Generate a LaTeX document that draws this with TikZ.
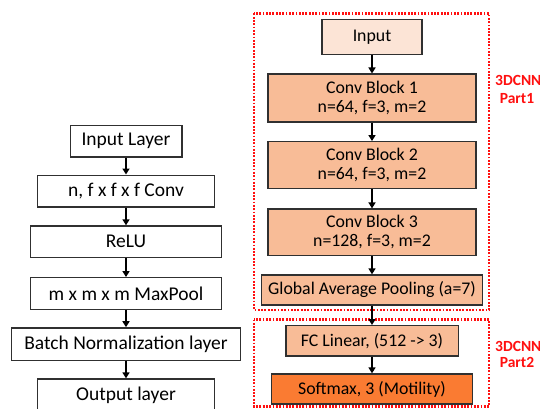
\documentclass[tikz,border=0pt]{standalone}
\usepackage{fontspec}
\setmainfont{Carlito}
\usetikzlibrary{arrows.meta}
\definecolor{inpfill}{HTML}{FCE4D6}
\definecolor{convfill}{HTML}{F8BC97}
\definecolor{smfill}{HTML}{FA7B32}
\definecolor{boxline}{HTML}{303030}
\definecolor{redline}{HTML}{FF1010}
\tikzset{
  lbox/.style={draw=boxline, line width=1.3pt, fill=white, inner sep=0pt, align=center,
     font=\fontsize{19.5}{22}\selectfont},
  rbox/.style={draw=boxline, line width=1.3pt, inner sep=0pt, align=center,
     font=\fontsize{17.8}{19}\selectfont},
  arr/.style={-{Triangle[length=6pt,width=7pt]}, line width=1.5pt, black},
  part/.style={draw=redline, line width=2.3pt, dash pattern=on 1.8pt off 1.5pt},
  plabel/.style={text=redline, font=\bfseries\fontsize{15.5}{17}\selectfont, inner sep=0pt}
}
\begin{document}
\begin{tikzpicture}[x=1pt,y=-1pt]
\clip (0,0) rectangle (540,409);
\fill[white] (0,0) rectangle (540,409);
% red dotted groups
\draw[part] (254,13.5) rectangle (489,310);
\draw[part] (254,319.5) rectangle (489,406.5);
\node[plabel, anchor=base west] (p1a) at (495,86) {3DCNN};
\node[plabel, anchor=base] (p1b) at (517,103) {Part1};
\node[plabel, anchor=base west] (p2a) at (495,351) {3DCNN};
\node[plabel, anchor=base] (p2b) at (517,367) {Part2};
% right column
\node[rbox, fill=inpfill, minimum width=100pt, minimum height=35pt] (in) at (372,36.8) {Input};
\node[rbox, fill=convfill, minimum width=208pt, minimum height=47.7pt] (cb1) at (372,98) {Conv Block 1\\n=64, f=3, m=2};
\node[rbox, fill=convfill, minimum width=208pt, minimum height=46.6pt] (cb2) at (372,165) {Conv Block 2\\n=64, f=3, m=2};
\node[rbox, fill=convfill, minimum width=208pt, minimum height=46.7pt] (cb3) at (372,232.4) {Conv Block 3\\n=128, f=3, m=2};
\node[rbox, fill=convfill, minimum width=220.6pt, minimum height=30pt] (gap) at (372,290) {Global Average Pooling (a=7)};
\node[rbox, fill=convfill, minimum width=172.3pt, minimum height=30.3pt] (fc) at (372,340.8) {FC Linear, (512 -> 3)};
\node[rbox, fill=smfill, minimum width=201pt, minimum height=30pt] (sm) at (372,389) {Softmax, 3 (Motility)};
\draw[arr] (in) -- (cb1);
\draw[arr] (cb1) -- (cb2);
\draw[arr] (cb2) -- (cb3);
\draw[arr] (cb3) -- (gap);
\draw[arr] (gap) -- (fc);
\draw[arr] (fc) -- (sm);
% left column
\node[lbox, minimum width=111.7pt, minimum height=31.7pt] (il) at (126,141) {Input Layer};
\node[lbox, minimum width=176.6pt, minimum height=31.7pt] (cv) at (126,191) {n, f x f x f Conv};
\node[lbox, minimum width=191pt, minimum height=31.3pt] (re) at (126,241.6) {ReLU};
\node[lbox, minimum width=191pt, minimum height=31.6pt] (mp) at (126,293.5) {m x m x m MaxPool};
\node[lbox, minimum width=229pt, minimum height=32.3pt] (bn) at (126,344) {Batch Normalization layer};
\node[lbox, minimum width=177.3pt, minimum height=32pt] (out) at (126,395) {Output layer};
\draw[arr] (il) -- (cv);
\draw[arr] (cv) -- (re);
\draw[arr] (re) -- (mp);
\draw[arr] (mp) -- (bn);
\draw[arr] (bn) -- (out);
\end{tikzpicture}
\end{document}
